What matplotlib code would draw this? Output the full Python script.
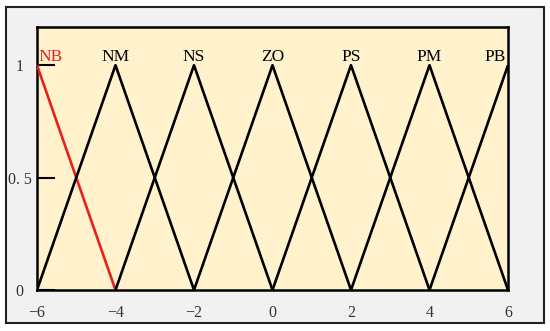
import matplotlib.pyplot as plt
from matplotlib.patches import Rectangle

# membership function terms and their breakpoints
terms = ["NB", "NM", "NS", "ZO", "PS", "PM", "PB"]
term_x = [
    [-6, -4],
    [-6, -4, -2],
    [-4, -2, 0],
    [-2, 0, 2],
    [0, 2, 4],
    [2, 4, 6],
    [4, 6],
]
term_y = [
    [1, 0],
    [0, 1, 0],
    [0, 1, 0],
    [0, 1, 0],
    [0, 1, 0],
    [0, 1, 0],
    [0, 1],
]
label_x = [-5.66, -4, -2, 0, 2, 4, 5.66]
term_colors = ["#e8201c", "black", "black", "black", "black", "black", "black"]

xticks = [-6, -4, -2, 0, 2, 4, 6]
xtick_labels = ["\u22126", "\u22124", "\u22122", "0", "2", "4", "6"]
yticks = [0, 0.5, 1]
ytick_labels = ["0", "0. 5", "1"]

plt.rcParams["font.family"] = ["Liberation Serif", "DejaVu Serif"]

fig = plt.figure(figsize=(5.5, 3.31), dpi=100)
fig.patch.set_facecolor("white")
fig.patches.append(Rectangle((6 / 550, 8 / 331), 538 / 550, 316 / 331,
                             transform=fig.transFigure, facecolor="#f1f1f1",
                             edgecolor="#222222", linewidth=1.5, zorder=-5))

ax = fig.add_axes([37 / 550, 41 / 331, 471 / 550, 263 / 331])
ax.set_facecolor("#fff2cc")

for xs, ys, c in zip(term_x, term_y, term_colors):
    ax.plot(xs, ys, color=c, linewidth=1.9, solid_capstyle="butt", zorder=3)

for name, lx, c in zip(terms, label_x, term_colors):
    ax.text(lx, 1.0, name, color=c, ha="center", va="bottom", fontsize=12.5)

ax.set_xlim(-6, 6)
ax.set_ylim(0, 1.17)
ax.set_xticks(xticks)
ax.set_xticklabels(xtick_labels)
ax.set_yticks(yticks)
ax.set_yticklabels(ytick_labels, ha="center")
ax.tick_params(axis="x", length=0, pad=11, labelsize=11.5, labelcolor="#333333")
ax.tick_params(axis="y", direction="in", length=13, width=1.5, pad=12.5,
               labelsize=11.5, labelcolor="#333333")

for s in ax.spines.values():
    s.set_linewidth(1.8)
    s.set_color("black")

fig.savefig("out.png", dpi=100)
